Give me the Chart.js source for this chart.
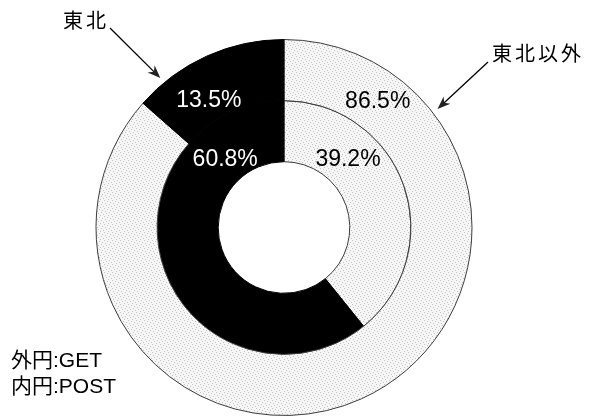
<!DOCTYPE html>
<html>
<head>
<meta charset="utf-8">
<script src="https://cdn.jsdelivr.net/npm/chart.js@4/dist/chart.umd.min.js"></script>
<style>
  html, body { margin: 0; padding: 0; background: #fff; }
  #wrap { width: 590px; height: 419px; }
</style>
</head>
<body>
<div id="wrap"><canvas id="c" width="590" height="419"></canvas></div>
<script>
// Share of requests by region (%), drawn clockwise from 12 o'clock
const categories = ['東北以外', '東北'];
const getShare = [86.5, 13.5];   // outer ring: GET
const postShare = [39.2, 60.8];  // inner ring: POST
const ringNotes = ['外円:GET', '内円:POST'];

// Light stippled fill for the "other regions" slices
function stipple() {
  const t = document.createElement('canvas');
  t.width = 8; t.height = 8;
  const g = t.getContext('2d');
  g.fillStyle = '#f6f6f6';
  g.fillRect(0, 0, 8, 8);
  g.fillStyle = '#c2c2c2';
  [[0,0],[3,1],[6,2],[1,3],[5,4],[2,5],[7,6],[4,7]].forEach(([x, y]) => g.fillRect(x, y, 1, 1));
  return g.createPattern(t, 'repeat');
}
const light = stipple();

// Where each value label sits: angle from 12 o'clock (deg) and radial position within its ring (0..1)
const labelSpots = [
  [{ a: 36.7, f: 0.49 }, { a: -30.6, f: 0.34 }],
  [{ a: 43.3, f: 0.45 }, { a: -41.0, f: 0.39 }]
];

const valueLabels = {
  id: 'valueLabels',
  afterDatasetsDraw(chart) {
    const ctx = chart.ctx;
    ctx.save();
    ctx.font = '23px "Liberation Sans", Arial, sans-serif';
    ctx.textAlign = 'center';
    ctx.textBaseline = 'middle';
    chart.data.datasets.forEach((ds, di) => {
      const meta = chart.getDatasetMeta(di);
      meta.data.forEach((arc, i) => {
        const p = arc.getProps(['x', 'y', 'innerRadius', 'outerRadius'], true);
        const s = labelSpots[di][i];
        const r = p.innerRadius + s.f * (p.outerRadius - p.innerRadius);
        const ang = (s.a - 90) * Math.PI / 180;
        ctx.fillStyle = i === 1 ? '#ffffff' : '#000000';
        ctx.fillText(ds.data[i].toFixed(1) + '%', p.x + r * Math.cos(ang), p.y + r * Math.sin(ang));
      });
    });
    ctx.restore();
  }
};

// Category callouts with arrows pointing at the outer ring
const callouts = {
  id: 'callouts',
  afterDraw(chart) {
    const ctx = chart.ctx;
    const meta = chart.getDatasetMeta(0);
    const items = [
      { idx: 1, text: categories[1], tx: 63, ty: 20, from: [110, 28], frac: 0.185 },
      { idx: 0, text: categories[0], tx: 492, ty: 53, from: [488, 62], frac: 0.168 }
    ];
    ctx.save();
    ctx.font = '20px "Noto Sans CJK JP", sans-serif';
    ctx.letterSpacing = '3px';
    ctx.textAlign = 'left';
    ctx.textBaseline = 'middle';
    ctx.fillStyle = '#000';
    items.forEach(it => {
      ctx.fillText(it.text, it.tx, it.ty);
      const p = meta.data[it.idx].getProps(['x', 'y', 'startAngle', 'endAngle', 'outerRadius'], true);
      const ang = p.startAngle + it.frac * (p.endAngle - p.startAngle);
      const r = p.outerRadius + 6;
      const tip = [p.x + r * Math.cos(ang), p.y + r * Math.sin(ang)];
      const dx = tip[0] - it.from[0], dy = tip[1] - it.from[1];
      const len = Math.hypot(dx, dy), ux = dx / len, uy = dy / len;
      ctx.strokeStyle = '#000';
      ctx.lineWidth = 1.3;
      ctx.beginPath();
      ctx.moveTo(it.from[0], it.from[1]);
      ctx.lineTo(tip[0] - ux * 8, tip[1] - uy * 8);
      ctx.stroke();
      ctx.fillStyle = '#222';
      ctx.beginPath();
      ctx.moveTo(tip[0], tip[1]);
      ctx.lineTo(tip[0] - ux * 13 - uy * 5, tip[1] - uy * 13 + ux * 5);
      ctx.lineTo(tip[0] - ux * 9, tip[1] - uy * 9);
      ctx.lineTo(tip[0] - ux * 13 + uy * 5, tip[1] - uy * 13 - ux * 5);
      ctx.closePath();
      ctx.fill();
      ctx.fillStyle = '#000';
    });
    ctx.letterSpacing = '0px';
    ctx.font = '21px "Liberation Sans", "Noto Sans CJK JP", sans-serif';
    ringNotes.forEach((t, k) => ctx.fillText(t, 11, 361 + k * 26));
    ctx.restore();
  }
};

const edge = ['#3c3c3c', '#000000'];

new Chart(document.getElementById('c'), {
  type: 'doughnut',
  data: {
    labels: categories,
    datasets: [
      { label: 'GET', data: getShare, backgroundColor: [light, '#000000'], borderColor: edge, borderWidth: 1 },
      { label: 'POST', data: postShare, backgroundColor: [light, '#000000'], borderColor: edge, borderWidth: 1 }
    ]
  },
  options: {
    responsive: false,
    animation: false,
    events: [],
    cutout: '35%',
    layout: { padding: { left: 0, right: 22, top: 39, bottom: 3 } },
    plugins: { legend: { display: false }, tooltip: { enabled: false } }
  },
  plugins: [valueLabels, callouts]
});
</script>
</body>
</html>
